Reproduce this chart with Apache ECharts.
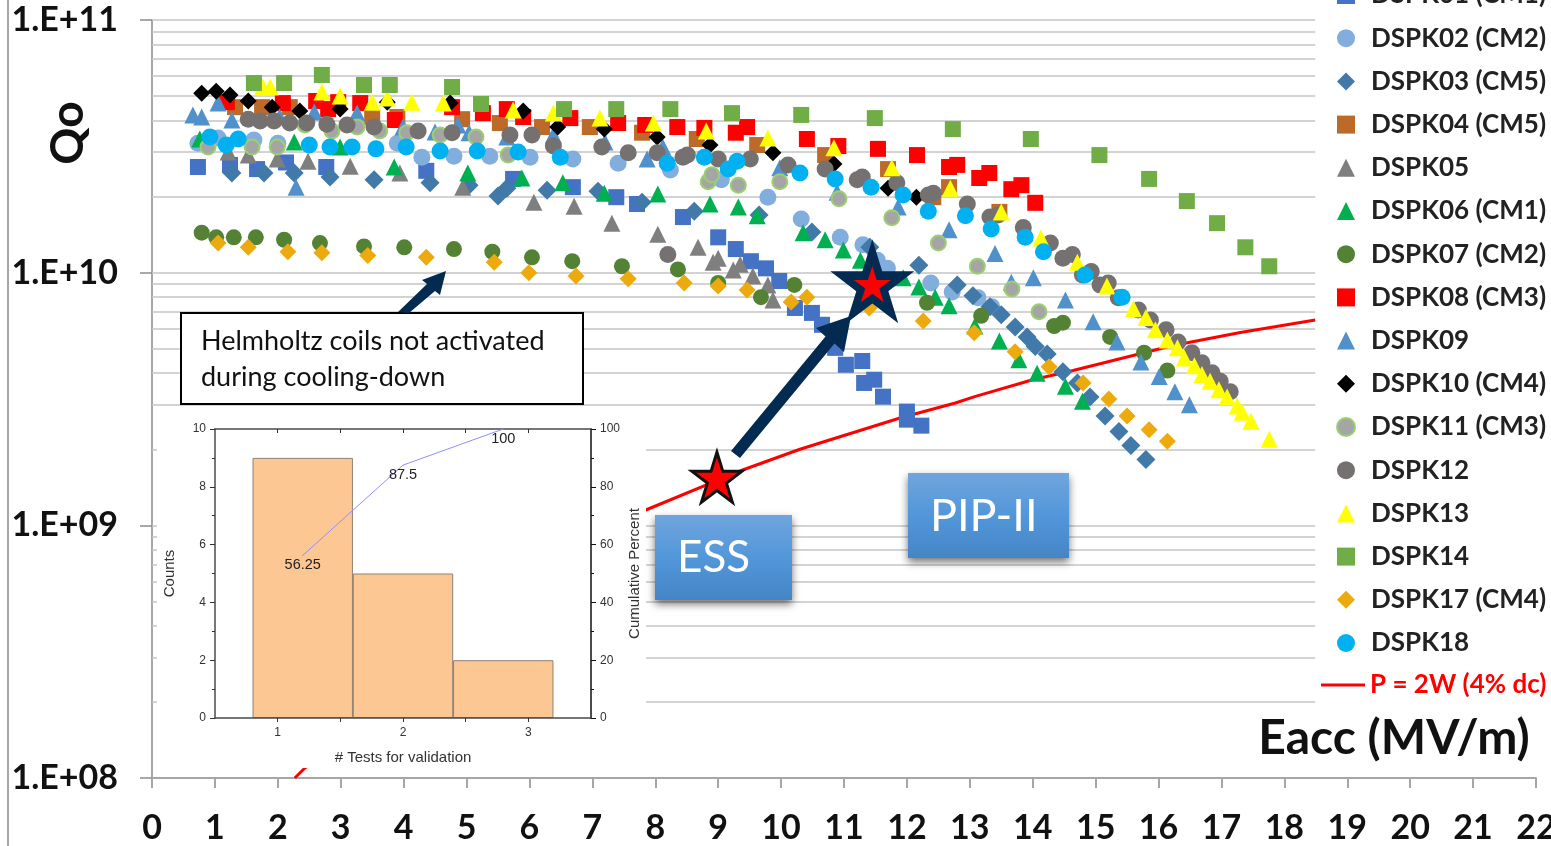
<!DOCTYPE html>
<html>
<head>
<meta charset="utf-8">
<style>html,body{margin:0;padding:0;background:#fff}#c{width:1551px;height:846px}</style>
<script src="https://cdn.jsdelivr.net/npm/echarts@6/dist/echarts.min.js"></script>
</head>
<body>
<div id="c"></div>
<script>
// All Q values below are in units of 1e10. Pairs are [Eacc (MV/m), Qo].
const UNIT = 1e10;
const dspk01 = [[.73,2.62],[1.24,2.67],[1.67,2.57],[2.13,2.73],[2.77,2.62],[4.36,2.53],[5.74,2.35],[6.69,2.18],[7.38,1.99],[7.71,1.87],[8.44,1.66],[9.0,1.38],[9.28,1.24],[9.52,1.11],[9.76,1.04],[9.97,.927],[10.22,.725],[10.49,.693],[10.65,.622],[10.86,.504],[11.03,.432],[11.29,.447],[11.32,.366],[11.48,.377],[11.62,.323],[12.0,.282],[12.0,.262],[12.23,.248]];
const dspk02 = [[.73,3.25],[1.05,3.41],[1.62,3.35],[2.0,3.25],[3.9,3.25],[4.29,2.86],[4.80,2.89],[5.37,2.89],[6.01,2.86],[6.69,2.82],[7.41,2.71],[8.24,2.55],[9.05,2.33],[9.79,1.99],[10.32,1.63],[10.94,1.38],[11.30,1.29],[11.53,1.12],[11.69,1.04],[12.38,.91],[12.72,.838],[13.13,.795],[13.35,.733]];
const dspk03 = [[1.27,2.48],[1.78,2.48],[2.26,2.48],[2.83,2.39],[3.53,2.33],[4.42,2.27],[5.04,2.22],[5.50,2.01],[5.64,2.16],[6.28,2.12],[7.09,2.10],[7.79,1.9],[8.62,1.75],[9.65,1.69],[10.49,1.45],[11.41,1.26],[12.19,1.07],[12.80,.894],[13.05,.81],[13.32,.733],[13.50,.681],[13.72,.61],[13.91,.557],[14.04,.51],[14.23,.477],[14.48,.405],[14.71,.366],[14.91,.322],[15.15,.271],[15.37,.235],[15.56,.207],[15.80,.182]];
const dspk04 = [[1.32,4.52],[1.75,4.52],[2.19,4.52],[3.50,4.13],[3.90,4.13],[4.93,4.05],[5.53,3.91],[6.20,3.77],[6.96,3.77],[7.79,3.58],[8.66,3.38],[9.62,3.2],[10.70,2.92],[11.70,2.57],[12.42,1.99],[12.67,2.18],[13.47,1.74]];
const dspk05 = [[1.21,3.0],[1.53,2.92],[1.99,2.82],[2.48,2.76],[3.15,2.64],[3.94,2.48],[4.94,2.18],[6.07,1.9],[6.71,1.83],[7.31,1.57],[8.04,1.42],[8.68,1.26],[8.92,1.1],[9.0,1.14],[9.24,1.025],[9.35,1.08],[9.55,.97],[9.79,.894],[9.87,.78]];
const dspk06 = [[.76,3.38],[2.26,3.29],[2.99,3.14],[3.85,2.62],[5.02,2.48],[5.88,2.37],[6.53,2.27],[7.19,2.06],[8.04,2.05],[8.87,1.87],[9.32,1.82],[9.62,1.68],[10.35,1.44],[10.70,1.35],[10.99,1.23],[11.26,1.12],[11.94,.955],[12.19,.878],[12.45,.80],[12.67,.74],[13.08,.615],[13.47,.537],[13.78,.452],[14.07,.40],[14.52,.355],[14.79,.31]];
const dspk07 = [[.79,1.44],[1.02,1.38],[1.30,1.38],[1.65,1.38],[2.10,1.35],[2.67,1.31],[3.37,1.27],[4.01,1.26],[4.80,1.24],[5.41,1.21],[6.04,1.15],[6.68,1.11],[7.47,1.06],[8.36,1.03],[9.0,.91],[9.68,.80],[10.21,.894],[12.32,.76],[13.18,.675],[14.34,.615],[14.48,.634],[15.23,.557],[15.77,.482],[16.14,.41]];
const dspk08 = [[1.19,4.73],[2.08,4.69],[2.61,4.78],[2.80,4.44],[2.96,4.73],[3.31,4.69],[3.86,4.02],[4.77,4.52],[5.26,4.28],[5.64,4.44],[5.90,4.13],[6.65,4.09],[7.41,3.91],[7.84,3.84],[8.35,3.77],[8.78,3.74],[9.28,3.58],[9.46,3.77],[10.41,3.38],[10.91,3.17],[11.54,3.09],[12.16,2.92],[12.67,2.62],[12.80,2.67],[13.15,2.37],[13.31,2.48],[13.66,2.14],[13.82,2.22],[14.04,1.89]];
const dspk09 = [[.65,4.21],[.79,4.13],[1.05,4.69],[1.27,4.02],[2.03,4.13],[2.29,2.18],[2.58,4.32],[3.26,4.28],[3.99,3.77],[4.5,3.6],[4.86,3.84],[5.04,3.58],[5.64,3.44],[6.38,3.51],[7.2,3.29],[7.87,2.82],[8.12,3.14],[9.98,2.6],[10.89,2.08],[11.86,1.82],[12.67,1.48],[13.4,1.19],[13.66,.917],[14.01,.955],[14.52,.78],[14.96,.64],[15.34,.532],[15.72,.443],[16.01,.388],[16.26,.338],[16.49,.30]];
const dspk10 = [[.79,5.13],[1.02,5.23],[1.24,5.05],[1.53,4.78],[1.91,4.52],[2.35,4.36],[2.99,4.44],[3.74,4.73],[4.74,4.69],[5.90,4.36],[6.45,3.77],[7.19,3.70],[8.03,3.44],[8.87,3.2],[9.87,2.98],[10.84,2.69],[11.70,2.16],[12.15,1.99]];
const dspk11 = [[.89,3.14],[1.59,3.14],[1.99,3.14],[2.43,3.84],[2.86,3.64],[3.26,3.77],[3.62,3.64],[4.05,3.58],[4.58,3.51],[5.15,3.44],[5.66,2.92],[8.84,2.29],[8.90,2.44],[9.32,2.22],[9.98,2.29],[10.92,1.96],[11.76,1.65],[12.50,1.31],[13.12,1.06],[13.67,.862],[14.10,.70]];
const dspk12 = [[1.53,4.05],[1.72,3.98],[1.94,3.98],[2.19,3.91],[2.46,3.91],[2.78,3.87],[3.10,3.84],[3.53,3.77],[4.23,3.64],[4.77,3.58],[5.69,3.51],[6.04,3.51],[6.38,3.17],[7.15,3.14],[7.57,2.98],[8.03,2.98],[8.20,1.18],[8.44,2.86],[8.51,2.92],[9.0,2.82],[9.51,2.82],[10.11,2.67],[10.70,2.57],[11.21,2.33],[11.29,2.39],[11.84,2.27],[12.34,2.03],[12.42,2.06],[12.96,1.87],[13.32,1.66],[13.45,1.69],[13.85,1.51],[14.28,1.31],[14.48,1.14],[14.63,1.18],[14.93,1.01],[14.79,.979],[15.07,.894],[15.2,.91],[15.36,.795],[15.68,.712],[15.87,.65],[16.12,.594],[16.31,.532],[16.53,.482],[16.69,.44],[16.85,.402],[16.98,.372],[17.14,.338]];
const dspk13 = [[1.76,5.43],[1.88,5.43],[2.70,5.19],[2.99,5.0],[3.50,4.73],[3.74,4.91],[4.13,4.73],[4.63,4.69],[5.74,4.40],[6.38,4.28],[7.12,4.09],[7.97,3.91],[8.81,3.64],[9.79,3.41],[10.84,3.12],[11.76,2.60],[12.69,2.16],[13.50,1.74],[14.13,1.37],[14.71,1.10],[15.18,.886],[15.60,.72],[15.80,.665],[15.95,.594],[16.14,.542],[16.30,.505],[16.41,.46],[16.57,.428],[16.69,.395],[16.82,.372],[16.96,.344],[17.09,.322],[17.25,.297],[17.33,.28],[17.47,.258],[17.76,.219]];
const dspk14 = [[1.62,5.63],[2.10,5.63],[2.70,6.06],[3.37,5.53],[3.78,5.53],[4.77,5.43],[5.23,4.65],[6.55,4.44],[7.38,4.44],[8.24,4.44],[9.22,4.28],[10.32,4.21],[11.49,4.09],[12.73,3.70],[13.97,3.38],[15.06,2.92],[15.85,2.35],[16.45,1.92],[16.93,1.57],[17.38,1.26],[17.76,1.06]];
const dspk17 = [[1.05,1.31],[1.53,1.26],[2.16,1.21],[2.70,1.2],[3.43,1.17],[4.36,1.15],[5.44,1.1],[5.99,1.0],[6.74,.97],[7.57,.945],[8.46,.91],[9.0,.886],[9.46,.854],[10.16,.765],[10.41,.80],[11.40,.725],[12.26,.644],[13.07,.578],[13.72,.486],[14.26,.424],[14.80,.366],[15.21,.316],[15.50,.271],[15.85,.239],[16.14,.215]];
const dspk18 = [[.92,3.44],[1.18,3.2],[1.37,3.38],[2.50,3.2],[2.83,3.14],[3.18,3.14],[3.56,3.09],[4.04,3.14],[4.58,3.03],[5.17,3.03],[5.82,3.0],[6.49,2.86],[8.19,2.71],[8.78,2.86],[9.16,2.57],[9.30,2.76],[10.30,2.48],[10.86,2.35],[11.43,2.18],[11.94,2.03],[12.34,1.75],[12.93,1.68],[13.34,1.49],[13.88,1.38],[14.17,1.21],[14.83,.979],[15.42,.80]];
const power2W = [[2.27,.01],[2.43,.01096],[7.85,.115],[9.40,.166],[10.30,.200],[11.89,.266],[12.77,.305],[13.09,.324],[14.0,.377],[14.64,.41],[15.07,.436],[16.23,.515],[17.3,.58],[18.49,.65]];
const essStar = [[8.98,.155]];
const pipStarOuter = [[11.45,.925]];
const pipStarInner = [[11.45,.90]];

// Inset histogram
const insetBins = [1.2,2.0,2.8];
const insetCounts = [9,5,2];
const insetCumulative = [56.25,87.5,100];

const decadeLabels = {8:'1.E+08',9:'1.E+09',10:'1.E+10',11:'1.E+11'};
const gridMantissas = [1,2,3,4,5,6,7,8,9];
const gridExponents = [8,9,10];
const gridEndE = 18.49;

const STAR = 'path://M50 0L61.23 34.55L97.55 34.55L68.16 55.9L79.39 90.45L50 69.1L20.61 90.45L31.84 55.9L2.45 34.55L38.77 34.55Z';
const pts = d => d.map(p => [p[0], p[1]*UNIT]);

function scat(name, data, symbol, size, color, extra){
  return Object.assign({name, type:'scatter', xAxisIndex:0, yAxisIndex:0, data:pts(data), symbol, symbolSize:size,
    itemStyle:{color, opacity:1}, z:2, animation:false, silent:true}, extra||{});
}
const gridData = [];
gridExponents.forEach(e => gridMantissas.forEach(m => {
  if (e===8 && m===1) return;
  const q = m*Math.pow(10,e);
  gridData.push([{coord:[0,q]},{coord:[gridEndE,q]}]);
}));
gridData.push([{coord:[0,1e11]},{coord:[gridEndE,1e11]}]);

const RED='P = 2W (4% dc)';
const names=['DSPK01 (CM1)','DSPK02 (CM2)','DSPK03 (CM5)','DSPK04 (CM5)','DSPK05','DSPK06 (CM1)','DSPK07 (CM2)','DSPK08 (CM3)','DSPK09','DSPK10 (CM4)','DSPK11 (CM3)','DSPK12','DSPK13','DSPK14','DSPK17 (CM4)','DSPK18'];

const series = [
  {type:'line',xAxisIndex:0,yAxisIndex:0,data:[],z:1,silent:true,animation:false,
   markLine:{z:1,silent:true,animation:false,symbol:'none',label:{show:false},lineStyle:{color:'#c4c4c4',width:1.6,type:'solid'},data:gridData}},
  {name:RED,type:'line',xAxisIndex:0,yAxisIndex:0,data:pts(power2W),showSymbol:false,symbol:'none',lineStyle:{color:'#ff0000',width:3},itemStyle:{color:'#ff0000'},z:2,animation:false,silent:true},
  scat(names[0],dspk01,'rect',16,'#4472C4'),
  scat(names[1],dspk02,'circle',17,'#82AEDD'),
  scat(names[2],dspk03,'diamond',19,'#4179A9'),
  scat(names[3],dspk04,'rect',16,'#BC6A2A'),
  scat(names[4],dspk05,'triangle',17,'#7F7F7F'),
  scat(names[5],dspk06,'triangle',17,'#00B050'),
  scat(names[6],dspk07,'circle',16,'#548235'),
  scat(names[7],dspk08,'rect',16,'#FF0000'),
  scat(names[8],dspk09,'triangle',17,'#5090CB'),
  scat(names[9],dspk10,'diamond',17,'#000000'),
  scat(names[10],dspk11,'circle',15,'#A5A5A5',{itemStyle:{color:'#A5A5A5',borderColor:'#9BD06F',borderWidth:2,opacity:1}}),
  scat(names[11],dspk12,'circle',17,'#767171'),
  scat(names[12],dspk13,'triangle',17,'#FFFF00'),
  scat(names[13],dspk14,'rect',16,'#70AD47'),
  scat(names[14],dspk17,'diamond',17,'#EDAA0E'),
  scat(names[15],dspk18,'circle',17,'#00B0F0'),
  {type:'scatter',xAxisIndex:0,yAxisIndex:0,data:pts(pipStarOuter),symbol:STAR,symbolSize:[84,84],itemStyle:{color:'#032B52',opacity:1},z:8,silent:true,animation:false},
  {type:'scatter',xAxisIndex:0,yAxisIndex:0,data:pts(pipStarInner),symbol:STAR,symbolSize:[37,36],itemStyle:{color:'#ff0000',opacity:1},z:9,silent:true,animation:false},
  {type:'scatter',xAxisIndex:0,yAxisIndex:0,data:pts(essStar),symbol:STAR,symbolSize:[50,50],itemStyle:{color:'#ff0000',borderColor:'#111',borderWidth:3,opacity:1},z:9,silent:true,animation:false},
  {type:'bar',xAxisIndex:1,yAxisIndex:1,data:insetBins.map((b,i)=>[b,insetCounts[i]]),barWidth:100.4,itemStyle:{color:'#FCC793',borderColor:'#8f8070',borderWidth:1},z:5,silent:true,animation:false},
  {type:'line',xAxisIndex:1,yAxisIndex:2,data:insetBins.map((b,i)=>[b,insetCumulative[i]]),symbol:'circle',symbolSize:1,showSymbol:true,itemStyle:{color:'#8f8fff'},lineStyle:{color:'#8f8fff',width:1},z:6,silent:true,animation:false,clip:false,
   label:{show:true,position:'bottom',distance:2,formatter:p=>String(p.value[1]),fontFamily:'"Liberation Sans"',fontSize:14.5,color:'#222'}}
];

const insetAxisLine = {show:true,lineStyle:{color:'#4a4a4a',width:1.5}};
const insetFont = {fontFamily:'"Liberation Sans"',fontSize:12,color:'#333'};
const nameFont = {fontFamily:'"Liberation Sans"',fontSize:15,color:'#333'};
const option = {
  backgroundColor:'#fff',
  animation:false,
  grid:[{left:152,right:15,top:20,bottom:68,outerBoundsMode:'none'},{left:215,top:429,width:376,height:289,z:6,outerBoundsMode:'none'}],
  xAxis:[
    {gridIndex:0,type:'value',min:0,max:22,interval:1,position:'bottom',
     axisLine:{show:true,onZero:false,lineStyle:{color:'#a6a6a6',width:2}},
     axisTick:{show:true,length:10,lineStyle:{color:'#a6a6a6',width:2}},
     splitLine:{show:false},
     axisLabel:{margin:33,fontFamily:'Lato',fontWeight:700,fontSize:34,color:'#111',formatter:v=>String(v)}},
    {gridIndex:1,type:'value',min:.5,max:3.5,interval:.5,position:'bottom',z:6,
     name:'# Tests for validation',nameLocation:'middle',nameGap:32,nameTextStyle:nameFont,
     axisLine:Object.assign({onZero:false},insetAxisLine),
     axisTick:{show:true,length:4,customValues:[1,1.5,2,2.5,3],lineStyle:{color:'#333'}},
     splitLine:{show:false},
     axisLabel:Object.assign({margin:9,customValues:[1,2,3],formatter:v=>String(v)},insetFont)},
    {gridIndex:1,type:'value',min:.5,max:3.5,interval:.5,position:'top',z:6,
     axisLine:Object.assign({onZero:false},insetAxisLine),
     axisTick:{show:true,inside:true,length:4,customValues:[1,1.5,2,2.5,3],lineStyle:{color:'#333'}},
     splitLine:{show:false},axisLabel:{show:false}}
  ],
  yAxis:[
    {gridIndex:0,type:'log',logBase:10,min:1e8,max:1e11,position:'left',
     axisLine:{show:true,onZero:false,lineStyle:{color:'#a6a6a6',width:2}},
     axisTick:{show:true,length:12,lineStyle:{color:'#8c8c8c',width:1.5}},
     splitLine:{show:false},minorTick:{show:false},minorSplitLine:{show:false},
     axisLabel:{margin:34,fontFamily:'Lato',fontWeight:700,fontSize:34,color:'#111',formatter:v=>decadeLabels[Math.round(Math.log10(v))]}},
    {gridIndex:1,type:'value',min:0,max:10,interval:2,position:'left',z:6,
     name:'Counts',nameLocation:'middle',nameGap:38,nameTextStyle:nameFont,
     axisLine:Object.assign({onZero:false},insetAxisLine),
     axisTick:{show:true,length:5,lineStyle:{color:'#333'}},
     minorTick:{show:true,splitNumber:2,length:3,lineStyle:{color:'#333'}},
     splitLine:{show:false},axisLabel:Object.assign({margin:9},insetFont)},
    {gridIndex:1,type:'value',min:0,max:100,interval:20,position:'right',z:6,
     name:'Cumulative Percent',nameLocation:'middle',nameGap:36,nameRotate:90,nameTextStyle:nameFont,
     axisLine:{show:true,onZero:false,lineStyle:{color:'#111',width:1.5}},
     axisTick:{show:true,length:5,lineStyle:{color:'#111'}},
     minorTick:{show:true,splitNumber:2,length:3,lineStyle:{color:'#111'}},
     splitLine:{show:false},axisLabel:Object.assign({margin:9},insetFont)}
  ],
  legend:[
    {data:names,orient:'vertical',left:1331,top:-25,itemWidth:18,itemHeight:18,itemGap:13.2,selectedMode:false,
     textStyle:{fontFamily:'Lato',fontWeight:700,fontSize:26,lineHeight:30,color:'#222',padding:[0,0,0,11]}},
    {data:[{name:RED,icon:'rect'}],orient:'vertical',left:1316,top:665,itemWidth:44,itemHeight:3,selectedMode:false,
     textStyle:{fontFamily:'Lato',fontWeight:700,fontSize:26,lineHeight:30,color:'#ff0000'}}
  ],
  graphic:{elements:[
    {type:'line',z:10,shape:{x1:8,y1:0,x2:8,y2:846},style:{stroke:'#a6a6a6',lineWidth:2}},
    {type:'rect',z:3,shape:{x:157,y:412,width:489,height:356},style:{fill:'#fff'}},
    {type:'text',z:10,x:68,y:133,rotation:Math.PI/2,style:{text:'Qo',font:'700 46px Lato',fill:'#111',textAlign:'center',textVerticalAlign:'middle'}},
    {type:'text',z:10,x:1394,y:739,style:{text:'Eacc (MV/m)',font:'700 48px Lato',fill:'#111',textAlign:'center',textVerticalAlign:'middle'}},
    {type:'rect',z:4,shape:{x:181,y:313,width:402,height:91},style:{fill:'#fff',stroke:'#000',lineWidth:2}},
    {type:'text',z:5,x:201,y:341,style:{text:'Helmholtz coils not activated',font:'27px Lato',fill:'#111',textVerticalAlign:'middle'}},
    {type:'text',z:5,x:201,y:377,style:{text:'during cooling-down',font:'27px Lato',fill:'#111',textVerticalAlign:'middle'}},
    {type:'polygon',z:5,shape:{points:[[398,312],[427,284],[422,280],[446,271],[440,295],[435,291],[409,313]]},style:{fill:'#032B52'}},
    {type:'polygon',z:8,shape:{points:[[731,451],[825.5,336.5],[816,328],[851,316],[844,352],[834.5,343.5],[740,458]]},style:{fill:'#032B52'}},
    {type:'rect',z:7,shape:{x:655,y:515,width:137,height:85},style:{fill:{type:'linear',x:0,y:0,x2:0,y2:1,colorStops:[{offset:0,color:'#70A5DD'},{offset:.5,color:'#5297DA'},{offset:1,color:'#4585C6'}]},shadowBlur:8,shadowOffsetY:4,shadowColor:'rgba(0,0,0,.55)'}},
    {type:'text',z:8,x:677,y:558,style:{text:'ESS',font:'44px Lato',fill:'#fff',textVerticalAlign:'middle'}},
    {type:'rect',z:7,shape:{x:908,y:473,width:161,height:85},style:{fill:{type:'linear',x:0,y:0,x2:0,y2:1,colorStops:[{offset:0,color:'#70A5DD'},{offset:.5,color:'#5297DA'},{offset:1,color:'#4585C6'}]},shadowBlur:8,shadowOffsetY:4,shadowColor:'rgba(0,0,0,.55)'}},
    {type:'text',z:8,x:930,y:516,style:{text:'PIP-II',font:'45px Lato',fill:'#fff',textVerticalAlign:'middle'}}
  ]},
  series
};
const chart = echarts.init(document.getElementById('c'),null,{renderer:'canvas'});
chart.setOption(option);
</script>
</body>
</html>
